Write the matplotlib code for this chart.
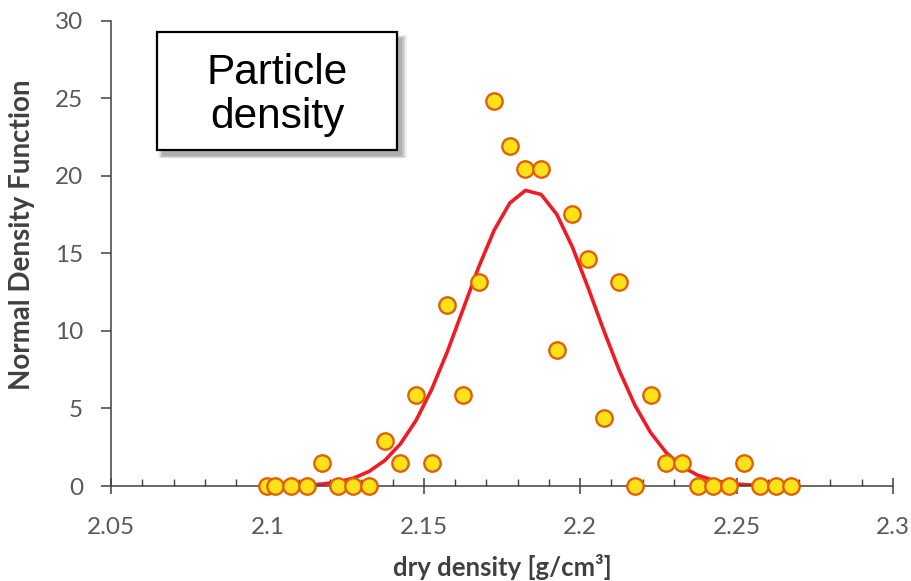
#!/usr/bin/env python3
"""Histogram density of dry density values with a fitted normal curve."""

import matplotlib

matplotlib.use("Agg")
import matplotlib.pyplot as plt
from matplotlib.patches import Rectangle
from matplotlib.ticker import MultipleLocator

# bin centres [g/cm3] and normalised histogram heights
dry_density = [
    2.1, 2.1025, 2.1075, 2.1125, 2.1175, 2.1225, 2.1275, 2.1325, 2.1375,
    2.1425, 2.1475, 2.1525, 2.1575, 2.1625, 2.1675, 2.1725, 2.1775, 2.1825,
    2.1875, 2.1925, 2.1975, 2.2025, 2.2075, 2.2125, 2.2175, 2.2225, 2.2275,
    2.2325, 2.2375, 2.2425, 2.2475, 2.2525, 2.2575, 2.2625, 2.2675,
]
observed = [
    0.0, 0.0, 0.0, 0.0, 1.46, 0.0, 0.0, 0.0, 2.92,
    1.46, 5.84, 1.46, 11.68, 5.84, 13.14, 24.82, 21.90, 20.44,
    20.44, 8.76, 17.52, 14.60, 4.38, 13.14, 0.0, 5.84, 1.46,
    1.46, 0.0, 0.0, 0.0, 1.46, 0.0, 0.0, 0.0,
]
# fitted normal density at the same points
normal_fit = [
    0.006, 0.010, 0.024, 0.057, 0.125, 0.259, 0.507, 0.938, 1.64,
    2.71, 4.22, 6.22, 8.65, 11.36, 14.09, 16.49, 18.24, 19.05,
    18.79, 17.51, 15.40, 12.79, 10.04, 7.44, 5.20, 3.44, 2.15,
    1.26, 0.70, 0.37, 0.18, 0.086, 0.038, 0.016, 0.006,
]

FONT = ["Lato", "DejaVu Sans"]
TICK_COLOR = "#595959"
LABEL_COLOR = "#404040"
AXIS_COLOR = "#404040"


def main() -> None:
    fig = plt.figure(figsize=(9.12, 5.81), dpi=100)
    ax = fig.add_axes([0.1217, 0.1635, 0.8575, 0.8012])

    ax.plot(dry_density, normal_fit, color="#EE1C25", linewidth=2.6, zorder=2)
    ax.plot(
        dry_density, observed, linestyle="none", marker="o", markersize=11.8,
        markerfacecolor="#FFE21A", markeredgecolor="#E0600A",
        markeredgewidth=1.7, zorder=3, clip_on=False,
    )

    ax.set_xlim(2.05, 2.3)
    ax.set_ylim(0, 30)
    ax.xaxis.set_minor_locator(MultipleLocator(0.01))
    ax.yaxis.set_major_locator(MultipleLocator(5))
    ax.set_xticks([2.05, 2.1, 2.15, 2.2, 2.25, 2.3])
    ax.set_xticklabels(["2.05", "2.1", "2.15", "2.2", "2.25", "2.3"])

    for side in ("top", "right"):
        ax.spines[side].set_visible(False)
    for side in ("left", "bottom"):
        ax.spines[side].set_color(AXIS_COLOR)
        ax.spines[side].set_linewidth(1.1)

    ax.tick_params(axis="x", which="major", direction="inout", length=12,
                   width=1.1, color=AXIS_COLOR, pad=16, labelsize=17.5,
                   labelcolor=TICK_COLOR)
    ax.tick_params(axis="x", which="minor", direction="in", length=5,
                   width=1.0, color=AXIS_COLOR)
    ax.tick_params(axis="y", which="major", direction="out", length=7,
                   width=1.1, color=AXIS_COLOR, pad=13, labelsize=17.5,
                   labelcolor=TICK_COLOR)
    for lbl in ax.get_xticklabels() + ax.get_yticklabels():
        lbl.set_family(FONT)

    ax.set_xlabel("dry density [g/cm³]", family=FONT, fontsize=18.5,
                  fontweight="bold", color=LABEL_COLOR)
    ax.set_ylabel("Normal Density Function", family=FONT, fontsize=20,
                  fontweight="bold", color=LABEL_COLOR)
    ax.xaxis.set_label_coords(0.5, -0.146)
    ax.yaxis.set_label_coords(-0.097, 0.539)

    # title box with a soft drop shadow
    bx, by, bw, bh = 0.1721, 0.7418, 0.2632, 0.2031
    for i, alpha in enumerate([0.10, 0.12, 0.14, 0.18]):
        grow = (3 - i) * 0.0015
        fig.patches.append(Rectangle(
            (bx + 0.006 - grow, by - 0.010 - grow), bw + 2 * grow, bh + 2 * grow,
            transform=fig.transFigure, facecolor="#505050", edgecolor="none",
            alpha=alpha, zorder=5,
        ))
    fig.patches.append(Rectangle(
        (bx, by), bw, bh, transform=fig.transFigure, facecolor="white",
        edgecolor="black", linewidth=1.6, zorder=6,
    ))
    fig.text(bx + bw / 2, by + bh / 2 - 0.007, "Particle\ndensity", ha="center",
             va="center", family=["Liberation Sans", "DejaVu Sans"],
             fontsize=30.5, linespacing=1.12, zorder=7)

    fig.savefig("out.png", dpi=100)
    plt.close(fig)


if __name__ == "__main__":
    main()
